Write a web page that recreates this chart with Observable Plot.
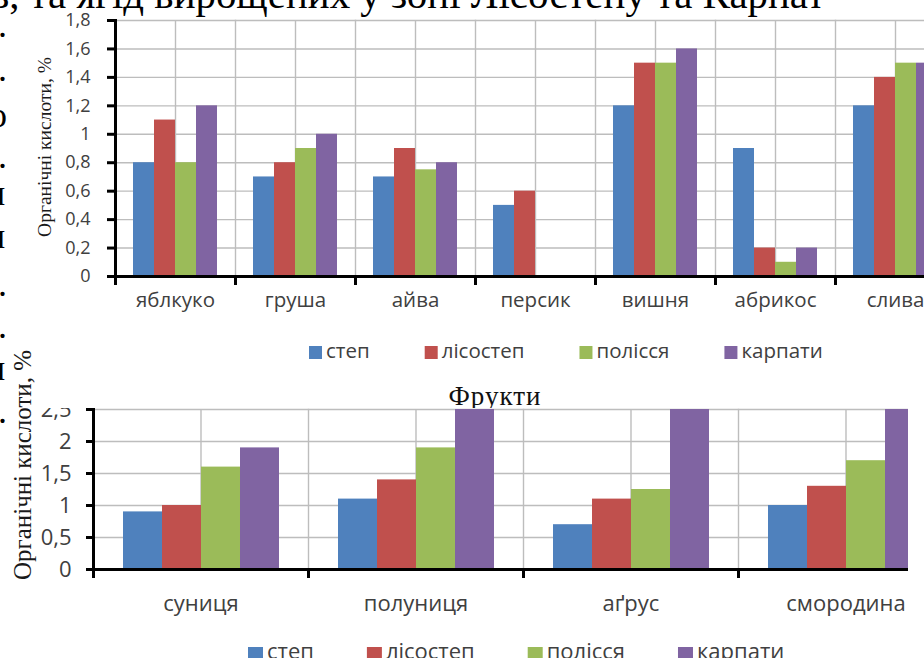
<!DOCTYPE html>
<html><head><meta charset="utf-8">
<script src="https://cdn.jsdelivr.net/npm/d3@7"></script>
<script src="https://cdn.jsdelivr.net/npm/@observablehq/plot@0.6"></script>
<style>
html,body{margin:0;padding:0;background:#fff;}
body{width:924px;height:658px;overflow:hidden;position:relative;}
.layer{position:absolute;left:0;top:0;}
svg.ov{position:absolute;left:0;top:0;overflow:visible;pointer-events:none}
</style></head><body>
<svg id="back" class="ov" width="924" height="658"></svg>
<div id="top" class="layer"></div>
<div id="bottom" class="layer" style="top:408px;width:908px;height:250px;overflow:hidden"></div>
<svg id="front" class="ov" width="924" height="658"></svg>
<script>
// ---------- data ----------
const zones = ["степ", "лісостеп", "полісся", "карпати"];
const zoneColors = ["#4F81BD", "#C0504D", "#9BBB59", "#8064A2"];

const fruits = ["яблкуко", "груша", "айва", "персик", "вишня", "абрикос", "слива"];
const fruitSteppe = [0.8, 0.7, 0.7, 0.5, 1.2, 0.9, 1.2];
const fruitForestSteppe = [1.1, 0.8, 0.9, 0.6, 1.5, 0.2, 1.4];
const fruitPolissia = [0.8, 0.9, 0.75, null, 1.5, 0.1, 1.5];
const fruitCarpathians = [1.2, 1.0, 0.8, null, 1.6, 0.2, 1.5];
const fruitTicks = [0, 0.2, 0.4, 0.6, 0.8, 1, 1.2, 1.4, 1.6, 1.8];

const berries = ["суниця", "полуниця", "аґрус", "смородина"];
const berrySteppe = [0.9, 1.1, 0.7, 1.0];
const berryForestSteppe = [1.0, 1.4, 1.1, 1.3];
const berryPolissia = [1.6, 1.9, 1.25, 1.7];
const berryCarpathians = [1.9, 2.8, 3.0, 2.9];
const berryTicks = [0, 0.5, 1, 1.5, 2, 2.5];

const yLabel = "Органічні кислоти, %";
const fruitTitle = "Фрукти";
const headerText = "в, та ягід вирощених у зоні Лісостепу та Карпат";
const marginFragments = [".", ".", "о", ".", "н", "н", ".", ".", "н", "."];

// ---------- styles ----------
const SERIF = "'Liberation Serif','Times New Roman',serif";
const SANS = "'Open Sans',sans-serif";
const GRID = "#BDBDBD";
const TEXT = "#404040";
const fmt = d => String(d).replace(".", ",");

function makeChart(o) {
  const rows = [];
  o.cats.forEach((c, i) => zones.forEach((z, k) => {
    const v = o.series[k][i];
    if (v != null) rows.push({cat: c, zone: z, value: v});
  }));
  const plotH = o.height - o.marginTop - o.marginBottom;
  return Plot.plot({
    width: o.width, height: o.height,
    marginLeft: o.marginLeft, marginRight: o.marginRight,
    marginTop: o.marginTop, marginBottom: o.marginBottom,
    style: `background:${o.bg};max-width:none;overflow:hidden;font-family:${SANS};`,
    fx: {domain: o.cats, padding: 0, axis: null, label: null},
    x: {domain: zones, paddingInner: 0, paddingOuter: o.padOuter, axis: null},
    y: {domain: [0, o.yMax], axis: null},
    color: {domain: zones, range: zoneColors},
    marks: [
      Plot.gridY(o.ticks, {stroke: GRID, strokeOpacity: 1, strokeWidth: 1.4}),
      Plot.frame({anchor: "left", stroke: GRID, strokeWidth: 1.4}),
      Plot.ruleX([0], {x: null, stroke: GRID, strokeWidth: 1.4}),
      Plot.barY(rows, {fx: "cat", x: "zone", y: "value", fill: "zone", clip: true}),
      Plot.ruleY([0], {stroke: "#000", strokeWidth: 3}),
      Plot.frame({anchor: "left", insetTop: plotH, insetBottom: -7, stroke: "#000", strokeWidth: 3}),
      Plot.frame({anchor: "left", facetAnchor: "left", insetBottom: -7, stroke: "#000", strokeWidth: 3}),
      Plot.axisY(o.ticks, {tickFormat: fmt, tickSize: o.tickSize, tickPadding: o.tickPadding,
        stroke: "#000", strokeWidth: 3, fill: TEXT, fontSize: o.fontTick, label: null}),
      Plot.axisFx({anchor: "bottom", tickSize: 0, tickPadding: o.catPad, fill: TEXT,
        fontSize: o.fontCat, label: null})
    ]
  });
}

document.getElementById("top").append(makeChart({
  cats: fruits,
  series: [fruitSteppe, fruitForestSteppe, fruitPolissia, fruitCarpathians],
  ticks: fruitTicks, yMax: 1.8,
  width: 960, height: 316, marginLeft: 115, marginRight: 5, marginTop: 20, marginBottom: 40,
  padOuter: 16 / 22, tickSize: 8, tickPadding: 17, fontTick: 18, catPad: 16, fontCat: 20.5,
  bg: "transparent"
}));

document.getElementById("bottom").append(makeChart({
  cats: berries,
  series: [berrySteppe, berryForestSteppe, berryPolissia, berryCarpathians],
  ticks: berryTicks, yMax: 2.5,
  width: 960, height: 211, marginLeft: 93, marginRight: 7, marginTop: 1, marginBottom: 50,
  padOuter: 0.739, tickSize: 7, tickPadding: 15, fontTick: 22, catPad: 26, fontCat: 22,
  bg: "white"
}));

// ---------- overlay texts ----------
function fit(sel, target) {
  sel.attr("font-size", 100);
  const w = sel.node().getComputedTextLength();
  sel.attr("font-size", 100 * target / w);
  return sel;
}

const back = d3.select("#back");
back.append("text").attr("x", 495).attr("y", 405).attr("text-anchor", "middle")
  .attr("font-family", SERIF).attr("font-size", 27).attr("letter-spacing", 1)
  .attr("fill", "#111").text(fruitTitle);

const front = d3.select("#front");
fit(front.append("text").attr("x", -10).attr("y", 8).attr("font-family", SERIF)
  .attr("fill", "#000").text(headerText), 835);

const fragY = [37, 81, 127, 168, 205, 248, 296, 338, 380, 423];
const fragX = {".": -2, "о": -11, "н": -14};
marginFragments.forEach((ch, i) => {
  front.append("text").attr("x", fragX[ch]).attr("y", fragY[i]).attr("font-family", SERIF)
    .attr("font-size", 36).attr("fill", "#000").text(ch);
});

function vlabel(x, y, len) {
  const t = front.append("text").attr("text-anchor", "middle").attr("dominant-baseline", "central")
    .attr("font-family", SERIF).attr("fill", "#1a1a1a").text(yLabel);
  fit(t, len);
  t.attr("transform", `translate(${x},${y}) rotate(-90)`);
}
vlabel(44, 147, 180);
vlabel(22, 465, 230);

function legend(x0, sqY, sq, baseY, fs, gap) {
  let x = x0;
  zones.forEach((z, i) => {
    front.append("rect").attr("x", x).attr("y", sqY).attr("width", sq).attr("height", sq)
      .attr("fill", zoneColors[i]);
    const t = front.append("text").attr("x", x + sq + 4).attr("y", baseY)
      .attr("font-family", SANS).attr("font-size", fs).attr("fill", TEXT).text(z);
    x += sq + 4 + t.node().getComputedTextLength() + gap;
  });
}
legend(309, 346, 13, 358, 20.5, 55);
legend(248, 647, 15, 659, 22, 53);
</script></body></html>
